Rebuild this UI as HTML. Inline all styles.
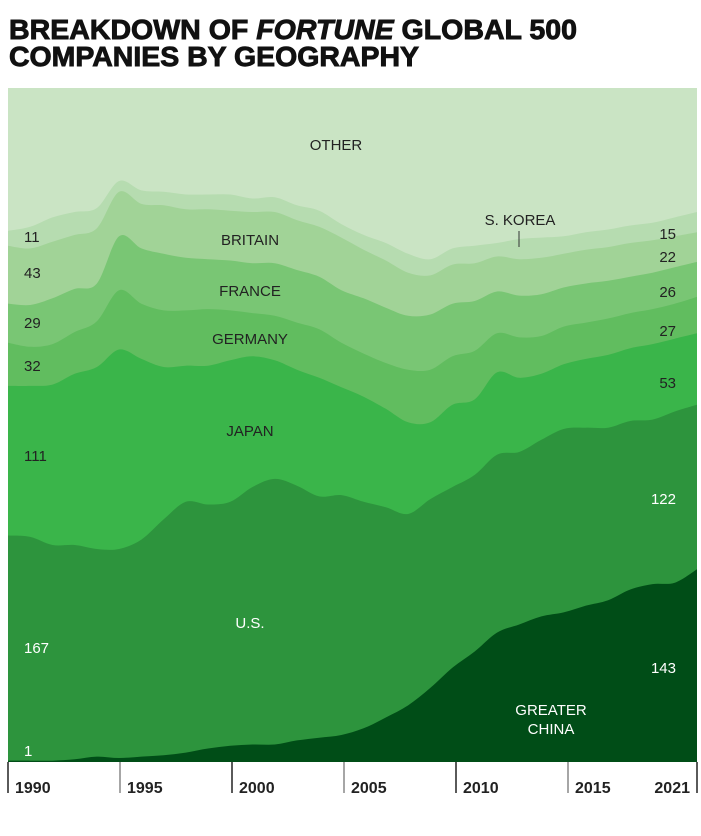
<!DOCTYPE html>
<html><head><meta charset="utf-8">
<style>
html,body{margin:0;padding:0;background:#fff;}
svg{display:block;}
text{font-family:"Liberation Sans Narrow","Liberation Sans",sans-serif;}
</style></head>
<body>
<svg id="chart" width="701" height="836" viewBox="0 0 701 836">
  <text x="9" y="39" font-weight="bold" font-size="28" textLength="568" lengthAdjust="spacingAndGlyphs" fill="#111" stroke="#111" stroke-width="0.9" style="font-family:'Liberation Sans',sans-serif">BREAKDOWN OF <tspan font-style="italic">FORTUNE</tspan> GLOBAL 500</text>
  <text x="9" y="66" font-weight="bold" font-size="28" textLength="410" lengthAdjust="spacingAndGlyphs" fill="#111" stroke="#111" stroke-width="0.9" style="font-family:'Liberation Sans',sans-serif">COMPANIES BY GEOGRAPHY</text>
  <g id="areas"></g>
  <g id="axis"></g>
  <g id="labels"></g>
</svg>
<script>
const years = [1990,1991,1992,1993,1994,1995,1996,1997,1998,1999,2000,2001,2002,2003,2004,2005,2006,2007,2008,2009,2010,2011,2012,2013,2014,2015,2016,2017,2018,2019,2020,2021];
const china   = [1,1,1,2,4,3,4,5,7,10,12,13,13,16,18,20,25,33,42,55,70,82,96,102,108,111,116,120,128,132,133,143];
const us      = [167,166,160,159,154,155,161,175,186,181,181,191,197,189,179,178,168,156,142,140,134,131,132,128,131,136,132,128,125,122,127,122];
const japan   = [111,112,119,127,135,148,134,113,101,103,105,97,88,86,88,80,78,73,68,57,61,56,61,55,49,48,51,54,54,56,54,53];
const germany = [32,29,30,31,34,44,41,42,41,42,37,32,33,35,36,33,32,34,39,39,36,36,29,30,28,28,27,27,26,26,26,27];
const france  = [29,31,34,32,28,40,41,42,39,37,37,37,39,39,39,39,41,41,40,41,39,37,31,31,31,29,29,28,27,27,27,26];
const britain = [43,42,42,40,41,33,33,36,36,37,37,38,38,37,37,39,36,35,32,29,29,28,26,27,27,25,25,25,25,24,23,22];
const korea   = [11,16,18,17,15,8,10,10,11,11,12,10,11,11,12,10,11,13,14,12,12,13,10,15,15,13,13,13,13,13,14,15];
const other   = [106,103,96,92,89,69,76,77,79,79,79,82,81,87,91,101,109,115,122,127,119,117,115,112,111,110,107,105,102,102,96,92];
const tickYears = [1990,1995,2000,2005,2010,2015,2021];
const total = 500;

const NS = "http://www.w3.org/2000/svg";
const X0 = 8, X1 = 697, Y0 = 88, Y1 = 762;
function xs(yr){ return X0 + (yr - years[0]) / (years[years.length-1] - years[0]) * (X1 - X0); }
function ys(v){ return Y1 - v / total * (Y1 - Y0); }

const series = [
  {name:"greater-china", data:china, color:"#004d17"},
  {name:"us", data:us, color:"#2d943d"},
  {name:"japan", data:japan, color:"#3ab54a"},
  {name:"germany", data:germany, color:"#61bd5f"},
  {name:"france", data:france, color:"#79c674"},
  {name:"britain", data:britain, color:"#a1d397"},
  {name:"s-korea", data:korea, color:"#b6dcb0"},
  {name:"other", data:other, color:"#cae4c4"}
];

function smoothPath(pts){
  let d = "M" + pts[0][0] + "," + pts[0][1];
  for (let i = 0; i < pts.length - 1; i++){
    const p0 = pts[Math.max(0,i-1)], p1 = pts[i], p2 = pts[i+1], p3 = pts[Math.min(pts.length-1,i+2)];
    const t = 6;
    const c1x = p1[0] + (p2[0]-p0[0])/t, c1y = p1[1] + (p2[1]-p0[1])/t;
    const c2x = p2[0] - (p3[0]-p1[0])/t, c2y = p2[1] - (p3[1]-p1[1])/t;
    d += " C" + c1x.toFixed(1) + "," + c1y.toFixed(1) + " " + c2x.toFixed(1) + "," + c2y.toFixed(1) + " " + p2[0].toFixed(1) + "," + p2[1].toFixed(1);
  }
  return d;
}

const areas = document.getElementById("areas");
const defs = document.createElementNS(NS,"defs");
defs.innerHTML = '<clipPath id="plotclip"><rect x="8" y="88" width="689" height="674"/></clipPath>';
areas.appendChild(defs);
const bg = document.createElementNS(NS,"rect");
bg.setAttribute("x",X0); bg.setAttribute("y",Y0); bg.setAttribute("width",X1-X0); bg.setAttribute("height",Y1-Y0);
bg.setAttribute("fill","#cae4c4");


areas.appendChild(bg);

let cum = years.map(()=>0);
const tops = [];
series.forEach(s => { cum = cum.map((c,i)=>c + s.data[i]); tops.push(cum.slice()); });
for (let k = series.length - 1; k >= 0; k--){
  const pts = years.map((yr,i)=>[xs(yr), ys(tops[k][i])]);
  let d = smoothPath(pts) + " L" + X1 + "," + Y1 + " L" + X0 + "," + Y1 + " Z";
  const p = document.createElementNS(NS,"path");
  p.setAttribute("d", d);
  p.setAttribute("fill", series[k].color);
  p.setAttribute("clip-path","url(#plotclip)");
  
  
  areas.appendChild(p);
}

const axis = document.getElementById("axis");
tickYears.forEach((yr,i) => {
  const x = (i === tickYears.length-1) ? X1 : X0 + (yr - years[0]) * 22.4;
  const l = document.createElementNS(NS,"line");
  l.setAttribute("x1",x); l.setAttribute("x2",x); l.setAttribute("y1",Y1); l.setAttribute("y2",793);
  l.setAttribute("stroke", i%2 ? "#888" : "#222"); l.setAttribute("stroke-width","1.5");
  
  
  axis.appendChild(l);
  const t = document.createElementNS(NS,"text");
  t.textContent = yr;
  if (i === tickYears.length-1){ t.setAttribute("x", 690); t.setAttribute("text-anchor","end"); }
  else t.setAttribute("x", x + 7);
  t.setAttribute("y", 793);
  t.setAttribute("font-size","16"); t.setAttribute("font-weight","bold"); t.setAttribute("fill","#222");
  t.setAttribute("style","font-family:'Liberation Sans',sans-serif");
  
  
  axis.appendChild(t);
});

const labels = document.getElementById("labels");
const labelList = [
  ["OTHER",336,150,"middle","#222","label-other"],
  ["BRITAIN",250,245,"middle","#222","label-britain"],
  ["FRANCE",250,296,"middle","#222","label-france"],
  ["GERMANY",250,344,"middle","#222","label-germany"],
  ["JAPAN",250,436,"middle","#222","label-japan"],
  ["U.S.",250,628,"middle","#fff","label-us"],
  ["GREATER",551,715,"middle","#fff","label-greater-china-1"],
  ["CHINA",551,734,"middle","#fff","label-greater-china-2"],
  ["S. KOREA",520,225,"middle","#222","label-s-korea"],
  ["11",24,242,"start","#222","value-korea-1990"],
  ["43",24,278,"start","#222","value-britain-1990"],
  ["29",24,328,"start","#222","value-france-1990"],
  ["32",24,371,"start","#222","value-germany-1990"],
  ["111",24,461,"start","#222","value-japan-1990"],
  ["167",24,653,"start","#fff","value-us-1990"],
  ["1",24,756,"start","#fff","value-china-1990"],
  ["15",676,239,"end","#222","value-korea-2021"],
  ["22",676,262,"end","#222","value-britain-2021"],
  ["26",676,297,"end","#222","value-france-2021"],
  ["27",676,336,"end","#222","value-germany-2021"],
  ["53",676,388,"end","#222","value-japan-2021"],
  ["122",676,504,"end","#fff","value-us-2021"],
  ["143",676,673,"end","#fff","value-china-2021"]
];
labelList.forEach(L => {
  const t = document.createElementNS(NS,"text");
  t.textContent = L[0];
  t.setAttribute("x",L[1]); t.setAttribute("y",L[2]);
  t.setAttribute("text-anchor",L[3]); t.setAttribute("fill",L[4]);
  t.setAttribute("font-size","15");
  
  
  labels.appendChild(t);
});
const kl = document.createElementNS(NS,"line");
kl.setAttribute("x1",519); kl.setAttribute("x2",519); kl.setAttribute("y1",231); kl.setAttribute("y2",247);
kl.setAttribute("stroke","#333"); kl.setAttribute("stroke-width","1");


labels.appendChild(kl);
</script>
</body></html>
